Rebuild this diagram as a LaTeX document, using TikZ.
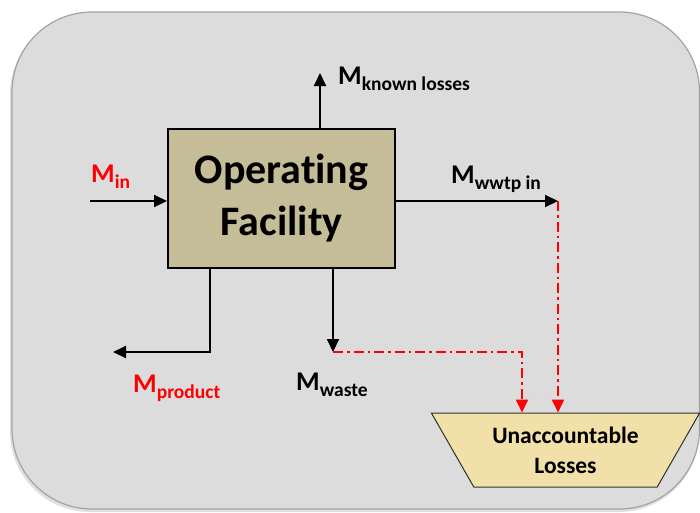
\documentclass[tikz,border=0pt]{standalone}
\usepackage{fontspec}
\setmainfont{Carlito}[Ligatures=CommonOff]
\usetikzlibrary{arrows.meta,shapes.geometric,calc}
\definecolor{bgfill}{HTML}{DCDCDC}
\definecolor{bgline}{HTML}{A3A3A3}
\definecolor{boxtan}{HTML}{C4BD97}
\definecolor{trapfill}{HTML}{F1E0A8}
\definecolor{mred}{HTML}{FF0000}
\definecolor{trapline}{HTML}{303030}
\newcommand{\mflow}[1]{{\fontsize{27}{27}\selectfont M}\raisebox{-6.5pt}{\fontsize{19.5}{20}\selectfont #1}}
\begin{document}
\begin{tikzpicture}[x=1pt,y=-1pt,
  facbox/.style={draw=black, line width=2pt, fill=boxtan, minimum width=227pt, minimum height=139pt,
    inner sep=0pt, align=center, font=\fontsize{42}{52}\selectfont\bfseries},
  trapbox/.style={trapezium, trapezium angle=54, shape border rotate=180, trapezium stretches=true,
    draw=trapline, line width=1pt, fill=trapfill, minimum width=269pt, minimum height=74pt,
    inner sep=0pt, align=center, font=\fontsize{23.5}{30}\selectfont\bfseries},
  flowlab/.style={anchor=base west, inner sep=0pt, font=\bfseries},
  arr/.style={draw=black, line width=2pt, -{Triangle[length=13pt,width=12pt]}},
  rarr/.style={draw=mred, line width=2pt, dash pattern=on 10pt off 4pt on 2.5pt off 4pt,
    -{Triangle[length=13pt,width=12pt]}}]
\useasboundingbox (0,0) rectangle (700,512);
\fill[black!12, rounded corners=80pt] (10,14) rectangle (699,512);
\draw[bgline, fill=bgfill, line width=1.2pt, rounded corners=80pt] (12,12) rectangle (699.5,509);

\node[facbox] (fac) at (281.5,198.5) {Operat\kern0pt ing\\Facility};
\node[trapbox] (ul) at (565.5,450) {Unaccountable\\Losses};

\coordinate (inS) at (90,201);
\draw[arr] (inS) -- (inS -| fac.west);
\coordinate (kT) at (320,73);
\draw[arr] (kT |- fac.north) -- (kT);
\coordinate (wT) at (558,201);
\draw[arr] (fac.east |- wT) -- (wT);
\coordinate (pC) at (210,352);
\coordinate (pT) at (113,352);
\draw[arr] (pC |- fac.south) -- (pC) -- (pT);
\coordinate (wsT) at (333,352);
\draw[arr] (wsT |- fac.south) -- (wsT);

\coordinate (wJ) at (522,352);
\draw[rarr] (wsT) -- (wJ) -- (wJ |- ul.north);
\draw[rarr] (wT) -- (wT |- ul.north);

\node[flowlab, mred] (lin) at (91,182) {\mflow{in}};
\node[flowlab] (lknown) at (338,84) {\mflow{known losses}};
\node[flowlab] (lwwtp) at (451,183) {\mflow{wwtp in}};
\node[flowlab] (lwaste) at (296,390) {\mflow{waste}};
\node[flowlab, mred] (lprod) at (133,392) {\mflow{product}};
\end{tikzpicture}
\end{document}
